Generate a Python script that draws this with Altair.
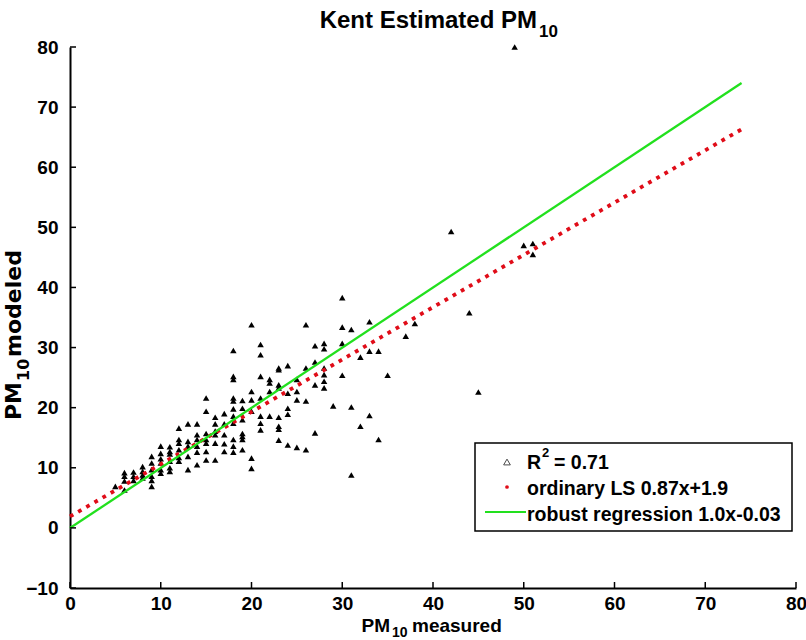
import altair as alt
import pandas as pd

# ---------------- data ----------------
measured = [
    5,
    6, 6, 6, 6,
    7, 7, 7,
    8, 8, 8, 8,
    9, 9, 9, 9, 9, 9,
    10, 10, 10, 10, 10, 10,
    11, 11, 11, 11, 11, 11,
    12, 12, 12, 12, 12, 12,
    13, 13, 13, 13, 13,
    14, 14, 14, 14, 14, 14,
    15, 15, 15, 15, 15, 15, 15,
    16, 16, 16, 16, 16, 16,
    17, 17, 17, 17, 17,
    18, 18, 18, 18, 18, 18, 18, 18, 18, 18, 18,
    19, 19, 19, 19, 19, 19, 19,
    20, 20, 20, 20, 20, 20,
    21, 21, 21, 21, 21, 21, 21,
    22, 22, 22, 22,
    23, 23, 23, 23, 23, 23, 23, 23,
    24, 24, 24, 24, 24,
    25, 25, 25, 25,
    26, 26, 26, 26,
    27, 27, 27, 27,
    28, 28, 28, 28, 28, 28,
    29,
    30, 30, 30, 30,
    31, 31, 31,
    32, 32,
    33, 33, 33,
    34, 34,
    35, 37, 38, 42, 44, 45, 49, 50, 51, 51,
]
modeled = [
    6.9,
    6.3, 7.8, 8.6, 9.2,
    7.9, 8.6, 9.3,
    8.3, 8.8, 9.4, 10.2,
    6.9, 7.9, 8.6, 9.7, 10.8, 11.9,
    9.1, 9.7, 10.8, 11.5, 12.4, 13.6,
    9.4, 10.0, 11.1, 12.3, 12.7, 13.5,
    11.1, 11.7, 13.0, 14.1, 14.7, 16.6,
    9.7, 11.9, 13.6, 14.4, 17.3,
    10.5, 12.6, 13.6, 14.7, 15.5, 17.3,
    11.3, 12.7, 14.1, 14.7, 15.7, 19.4, 21.6,
    11.3, 14.1, 15.5, 16.1, 17.3, 18.4,
    12.7, 14.0, 15.5, 17.3, 19.0,
    12.6, 13.6, 14.7, 17.4, 18.6, 19.8, 21.1, 21.6, 24.7, 25.2, 29.5,
    13.0, 14.7, 15.2, 15.7, 18.0, 19.9, 21.2,
    9.9, 11.6, 19.4, 21.3, 22.7, 33.8,
    16.3, 17.4, 18.6, 21.6, 25.2, 28.8, 30.5,
    18.6, 22.7, 24.1, 24.7,
    14.6, 16.4, 16.9, 18.4, 23.3, 23.8, 26.3, 26.6,
    13.8, 18.9, 19.9, 22.4, 27.0,
    13.4, 21.3, 22.7, 24.7,
    13.0, 21.1, 26.6, 33.8,
    15.8, 23.8, 27.6, 30.3,
    23.3, 24.4, 25.5, 26.6, 29.8, 30.7,
    20.3,
    25.4, 30.7, 33.4, 38.3,
    8.8, 20.1, 33.0,
    16.9, 28.4,
    18.7, 29.4, 34.3,
    14.7, 29.4,
    25.4, 31.9, 34.0, 49.3, 35.8, 22.6, 80.0, 47.0, 45.5, 47.3,
]

fit_x = [0, 74]
ols_y = [1.9, 66.3]          # ordinary LS 0.87x+1.9
robust_y = [-0.03, 74.0]     # robust regression 1.0x-0.03

x_ticks = [0, 10, 20, 30, 40, 50, 60, 70, 80]
y_ticks = [-10, 0, 10, 20, 30, 40, 50, 60, 70, 80]

title_main = "Kent Estimated PM"
sub_text = "10"
x_title_words = ["PM", "measured"]
y_title_words = ["PM", "modeled"]
legend_r2 = ["R", "2", "= 0.71"]
legend_ols = "ordinary LS 0.87x+1.9"
legend_robust = "robust regression 1.0x-0.03"

# ---------------- chart ----------------
W, H = 726, 541
FONT = "Liberation Sans, Arial, sans-serif"
YFONT = "DejaVu Sans, Liberation Sans, sans-serif"
RED = "#e00c18"
GREEN = "#22e01e"

pts = pd.DataFrame({"measured": measured, "modeled": modeled})
ols_df = pd.DataFrame({"x": fit_x, "y": ols_y})
rob_df = pd.DataFrame({"x": fit_x, "y": robust_y})

xs = alt.Scale(domain=[0, 80], nice=False, zero=False)
ys = alt.Scale(domain=[-10, 80], nice=False, zero=False)

x_axis = alt.Axis(values=x_ticks, ticks=False, grid=False, domainColor="black",
                  domainWidth=2, labelFont=FONT, labelFontSize=19, labelFontWeight="bold",
                  labelColor="black", labelPadding=6, labelFlush=False, labelOverlap=False,
                  title=None, format="d")
y_axis = alt.Axis(values=y_ticks, ticks=False, grid=False, domainColor="black",
                  domainWidth=2, labelFont=FONT, labelFontSize=19, labelFontWeight="bold",
                  labelColor="black", labelPadding=12, labelFlush=False, labelOverlap=False,
                  title=None, format="d")

X = lambda f: alt.X(f, scale=xs, axis=x_axis, title=None)
Y = lambda f: alt.Y(f, scale=ys, axis=y_axis, title=None)

scatter = alt.Chart(pts).mark_point(shape="triangle-up", filled=True, color="black",
                                    size=42, opacity=1).encode(x=X("measured:Q"), y=Y("modeled:Q"))
ols = alt.Chart(ols_df).mark_line(color=RED, strokeWidth=3.8, strokeDash=[3.8, 5.6]).encode(
    x=X("x:Q"), y=Y("y:Q"))
robust = alt.Chart(rob_df).mark_line(color=GREEN, strokeWidth=2.3).encode(x=X("x:Q"), y=Y("y:Q"))

xt = alt.Chart(pd.DataFrame({"v": x_ticks})).mark_rule(color="black", strokeWidth=1.5).encode(
    x=X("v:Q"), y=alt.value(H), y2=alt.value(H - 6))
yt = alt.Chart(pd.DataFrame({"v": y_ticks})).mark_rule(color="black", strokeWidth=1.5).encode(
    y=Y("v:Q"), x=alt.value(0), x2=alt.value(6))

one = alt.Data(values=[{"k": 1}])


def txt(s, x, y, size, align="left", angle=0, font=FONT):
    return alt.Chart(one).mark_text(align=align, baseline="alphabetic", font=font,
                                    fontWeight="bold", fontSize=size, color="black",
                                    angle=angle).encode(
        x=alt.value(x), y=alt.value(y), text=alt.value(s))


# title
t1 = txt(title_main, 467, -19, 24, align="right")
t2 = txt(sub_text, 469, -10, 17)
# x title
xa = txt(x_title_words[0], 320, 585, 19, align="right")
xb = txt(sub_text, 322, 590, 14)
xc = txt(x_title_words[1], 342, 585, 19)
# y title (rotated)
ya = txt(y_title_words[0], -49, 373, 22, angle=270, font=YFONT)
yb = txt(sub_text, -41, 334, 16, angle=270, font=YFONT)
yc = txt(y_title_words[1], -49, 310, 22, angle=270, font=YFONT)

# legend
box = alt.Chart(one).mark_rect(fill="white", stroke="black", strokeWidth=1.5).encode(
    x=alt.value(405), x2=alt.value(722), y=alt.value(396), y2=alt.value(484))
sym1 = alt.Chart(one).mark_point(shape="triangle-up", filled=False, color="black", size=45,
                                 strokeWidth=1).encode(x=alt.value(437), y=alt.value(415))
sym2 = alt.Chart(one).mark_point(shape="circle", filled=True, color=RED, size=14,
                                 opacity=1).encode(x=alt.value(437), y=alt.value(440))
sym3 = alt.Chart(one).mark_rule(color=GREEN, strokeWidth=2).encode(
    x=alt.value(415), x2=alt.value(456), y=alt.value(465))
l1a = txt(legend_r2[0], 457, 422, 19.5)
l1b = txt(legend_r2[1], 472, 410, 13)
l1c = txt(legend_r2[2], 484, 422, 19.5)
l2 = txt(legend_ols, 457, 448, 19.5)
l3 = txt(legend_robust, 457, 474, 19.5)

chart = alt.layer(
    scatter, ols, robust, xt, yt, box, sym1, sym2, sym3, l1a, l1b, l1c, l2, l3,
    t1, t2, xa, xb, xc, ya, yb, yc,
).properties(
    width=W, height=H,
    padding={"left": 70, "top": 47, "right": 10, "bottom": 52},
    autosize=alt.AutoSizeParams(type="none"),
).configure_view(stroke=None)

chart.save("out.html", embed_options={"renderer": "svg", "actions": False})
